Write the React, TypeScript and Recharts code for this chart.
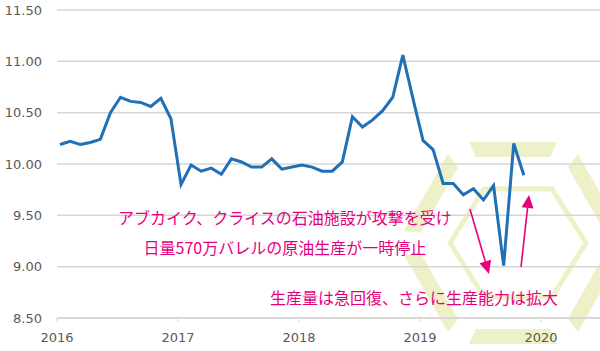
import React from 'react';
import {
  LineChart, Line, XAxis, YAxis, CartesianGrid, ReferenceDot, ReferenceLine, Label,
} from 'recharts';

// ---- data ----
const months: string[] = [
  '2016-01','2016-02','2016-03','2016-04','2016-05','2016-06','2016-07','2016-08','2016-09','2016-10','2016-11','2016-12',
  '2017-01','2017-02','2017-03','2017-04','2017-05','2017-06','2017-07','2017-08','2017-09','2017-10','2017-11','2017-12',
  '2018-01','2018-02','2018-03','2018-04','2018-05','2018-06','2018-07','2018-08','2018-09','2018-10','2018-11','2018-12',
  '2019-01','2019-02','2019-03','2019-04','2019-05','2019-06','2019-07','2019-08','2019-09','2019-10','2019-11',
];
const production: number[] = [
  10.19, 10.22, 10.19, 10.21, 10.24, 10.50, 10.65, 10.61, 10.60, 10.56, 10.64, 10.44,
  9.80, 9.99, 9.93, 9.96, 9.90, 10.05, 10.02, 9.97, 9.97, 10.05, 9.95, 9.97,
  9.99, 9.97, 9.93, 9.93, 10.02, 10.46, 10.36, 10.43, 10.52, 10.65, 11.06, 10.64,
  10.23, 10.14, 9.81, 9.81, 9.70, 9.76, 9.65, 9.79, 9.01, 10.20, 9.89,
];
const yearTicks: number[] = [2016, 2017, 2018, 2019, 2020];
const valueTicks: number[] = [8.5, 9.0, 9.5, 10.0, 10.5, 11.0, 11.5];
const noteLines: string[] = [
  'アブカイク、クライスの石油施設が攻撃を受け',
  '日量570万バレルの原油生産が一時停止',
  '生産量は急回復、さらに生産能力は拡大',
];

const monthToX = (m: string) => {
  const [y, mo] = m.split('-').map(Number);
  return y + (mo - 0.7) / 12;
};
const data = months.map((m, i) => ({ x: monthToX(m), v: production[i] }));

const PINK = '#e6007e';
const BLUE = '#1f70b6';
const GRID = '#d6d6d6';
const WM = '#eef1c8';

// ---- decorative watermark ----
function hexVerts(cx: number, cy: number, hw: number, hh: number) {
  return [
    [cx - hw, cy], [cx - hw / 2, cy - hh], [cx + hw / 2, cy - hh],
    [cx + hw, cy], [cx + hw / 2, cy + hh], [cx - hw / 2, cy + hh],
  ];
}
function lerp(a: number[], b: number[], t: number) {
  return [a[0] + (b[0] - a[0]) * t, a[1] + (b[1] - a[1]) * t];
}
const Watermark = () => {
  const o = hexVerts(513, 243, 116, 101);
  const n = hexVerts(513, 243, 98, 86);
  const bands = o.map((_, i) => {
    const j = (i + 1) % 6;
    const p = [lerp(o[i], o[j], 0.12), lerp(o[i], o[j], 0.88), lerp(n[i], n[j], 0.88), lerp(n[i], n[j], 0.12)];
    return p.map((q) => q.join(',')).join(' ');
  });
  const inner = hexVerts(518, 243, 68, 54).map((q) => q.join(',')).join(' ');
  return (
    <svg width={600} height={351} style={{ position: 'absolute', left: 0, top: 0 }}>
      {bands.map((pts, i) => (
        <polygon key={i} points={pts} fill={WM} />
      ))}
      <polygon points={inner} fill="none" stroke={WM} strokeWidth={5} />
    </svg>
  );
};

const Arrow = (props: any) => {
  const { x1, y1, x2, y2 } = props;
  const dx = x2 - x1;
  const dy = y2 - y1;
  const len = Math.sqrt(dx * dx + dy * dy) || 1;
  const ux = dx / len;
  const uy = dy / len;
  const hl = 13;
  const hw = 6;
  const bx = x2 - ux * hl;
  const by = y2 - uy * hl;
  const pts = [
    [x2, y2],
    [bx - uy * hw, by + ux * hw],
    [bx + uy * hw, by - ux * hw],
  ].map((q) => q.join(',')).join(' ');
  return (
    <g>
      <line x1={x1} y1={y1} x2={bx + ux * 2} y2={by + uy * 2} stroke={PINK} strokeWidth={1.6} />
      <polygon points={pts} fill={PINK} />
    </g>
  );
};

const noteLabel = (text: string) => (
  <Label
    value={text}
    position="center"
    fill={PINK}
    fontSize={16}
    fontFamily="'Noto Sans CJK JP', sans-serif"
  />
);

export default function App() {
  return (
    <div style={{ position: 'absolute', left: 0, top: 0, width: 600, height: 351, background: '#fff' }}>
      <Watermark />
      <div style={{ position: 'absolute', left: 0, top: 0 }}>
        <LineChart width={600} height={351} data={data} margin={{ top: 10, right: 0, bottom: 0, left: 0 }}>
          <CartesianGrid vertical={false} stroke={GRID} strokeWidth={1.5} />
          <XAxis
            type="number"
            dataKey="x"
            domain={[2016, 2020.488]}
            ticks={yearTicks}
            allowDataOverflow
            height={33}
            tickSize={4}
            tickMargin={11}
            axisLine={{ stroke: GRID, strokeWidth: 1.5 }}
            tickLine={{ stroke: GRID }}
            tick={{ fontFamily: 'DejaVu Sans', fontSize: 13, fill: '#595959' }}
            tickFormatter={(v: number) => String(v)}
          />
          <YAxis
            type="number"
            domain={[8.5, 11.5]}
            ticks={valueTicks}
            width={57}
            tickSize={0}
            tickMargin={15}
            axisLine={false}
            tickLine={false}
            tick={{ fontFamily: 'DejaVu Sans', fontSize: 13, fill: '#595959' }}
            tickFormatter={(v: number) => v.toFixed(2)}
          />
          <Line
            type="linear"
            dataKey="v"
            stroke={BLUE}
            strokeWidth={3}
            dot={false}
            isAnimationActive={false}
          />
          <ReferenceLine
            segment={[{ x: 2019.413, y: 9.562 }, { x: 2019.57, y: 8.929 }]}
            ifOverflow="visible"
            shape={Arrow}
          />
          <ReferenceLine
            segment={[{ x: 2019.835, y: 8.997 }, { x: 2019.901, y: 9.698 }]}
            ifOverflow="visible"
            shape={Arrow}
          />
          <ReferenceDot x={2017.884} y={9.474} r={0} fill="none" stroke="none" ifOverflow="visible" label={noteLabel(noteLines[0])} />
          <ReferenceDot x={2017.884} y={9.182} r={0} fill="none" stroke="none" ifOverflow="visible" label={noteLabel(noteLines[1])} />
          <ReferenceDot x={2018.95} y={8.695} r={0} fill="none" stroke="none" ifOverflow="visible" label={noteLabel(noteLines[2])} />
        </LineChart>
      </div>
    </div>
  );
}
